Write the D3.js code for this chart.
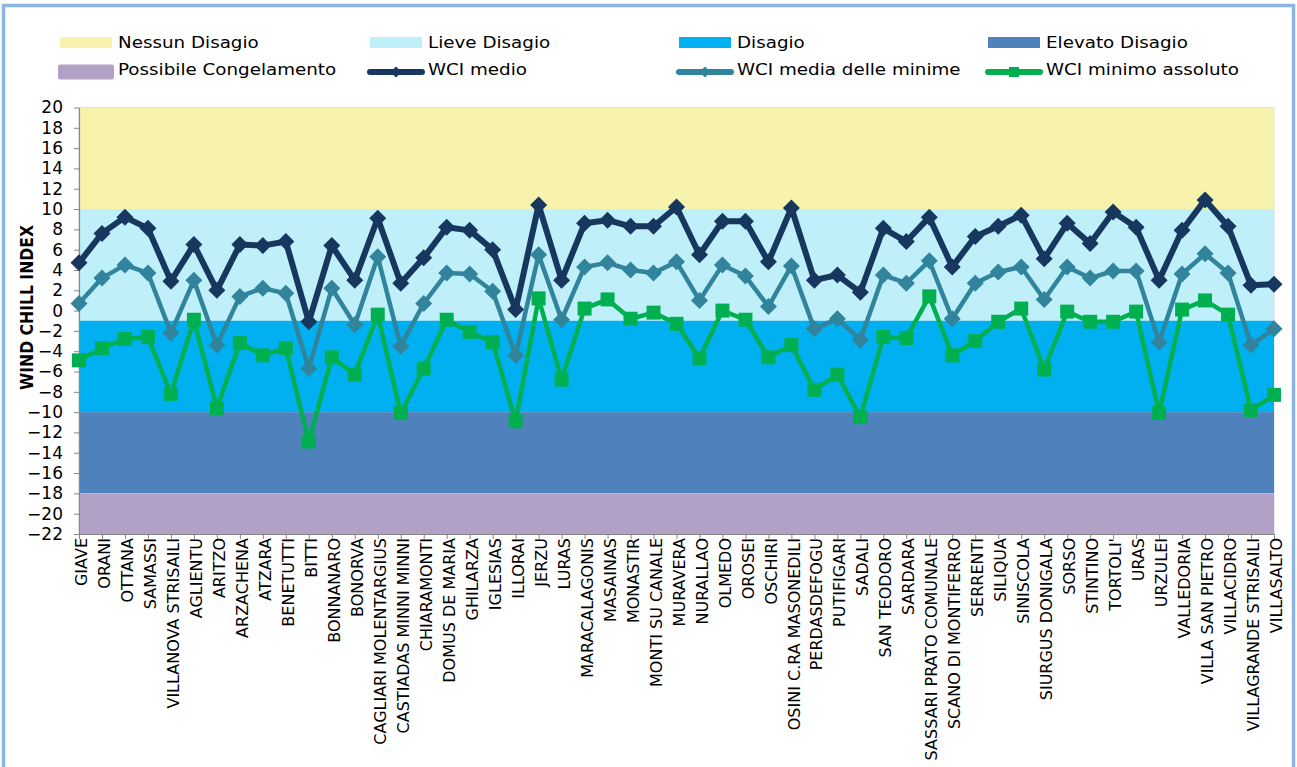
<!DOCTYPE html>
<html>
<head>
<meta charset="utf-8">
<script src="https://cdn.jsdelivr.net/npm/d3@7/dist/d3.min.js"></script>
<style>
  html, body { margin: 0; padding: 0; background: #ffffff; }
  svg { display: block; }
  text { font-family: "DejaVu Sans", Verdana, sans-serif; fill: #000; }
</style>
</head>
<body>
<svg id="chart" width="1297" height="767"></svg>
<script>
// Stazioni
const categories = [
  "GIAVE", "ORANI", "OTTANA", "SAMASSI", "VILLANOVA STRISAILI", "AGLIENTU", "ARITZO",
  "ARZACHENA", "ATZARA", "BENETUTTI", "BITTI", "BONNANARO", "BONORVA",
  "CAGLIARI MOLENTARGIUS", "CASTIADAS MINNI MINNI", "CHIARAMONTI", "DOMUS DE MARIA",
  "GHILARZA", "IGLESIAS", "ILLORAI", "JERZU", "LURAS", "MARACALAGONIS", "MASAINAS",
  "MONASTIR", "MONTI SU CANALE", "MURAVERA", "NURALLAO", "OLMEDO", "OROSEI", "OSCHIRI",
  "OSINI C.RA MASONEDILI", "PERDASDEFOGU", "PUTIFIGARI", "SADALI", "SAN TEODORO",
  "SARDARA", "SASSARI PRATO COMUNALE", "SCANO DI MONTIFERRO", "SERRENTI", "SILIQUA",
  "SINISCOLA", "SIURGUS DONIGALA", "SORSO", "STINTINO", "TORTOLI'", "URAS", "URZULEI",
  "VALLEDORIA", "VILLA SAN PIETRO", "VILLACIDRO", "VILLAGRANDE STRISAILI", "VILLASALTO"
];

// WCI medio
const wciMedio = [
  4.7, 7.6, 9.2, 8.1, 2.9, 6.5, 2.0, 6.5, 6.4, 6.8,
  -1.1, 6.4, 3.0, 9.1, 2.7, 5.2, 8.2, 7.9, 6.0, 0.1,
  10.4, 3.0, 8.6, 8.9, 8.3, 8.3, 10.2, 5.5, 8.8, 8.8,
  4.8, 10.1, 3.0, 3.5, 1.8, 8.1, 6.8, 9.2, 4.3, 7.3,
  8.3, 9.4, 5.1, 8.6, 6.6, 9.7, 8.2, 3.0, 7.9, 10.9,
  8.3, 2.5, 2.6
];

// WCI media delle minime
const wciMediaMinime = [
  0.7, 3.2, 4.5, 3.7, -2.2, 3.0, -3.4, 1.4, 2.2, 1.7,
  -5.7, 2.2, -1.4, 5.3, -3.5, 0.7, 3.7, 3.6, 1.9, -4.4,
  5.5, -0.9, 4.3, 4.7, 4.0, 3.7, 4.8, 1.0, 4.5, 3.4,
  0.4, 4.4, -1.8, -0.8, -2.9, 3.5, 2.7, 4.9, -0.8, 2.7,
  3.8, 4.3, 1.1, 4.3, 3.2, 3.9, 3.9, -3.1, 3.6, 5.6,
  3.7, -3.4, -1.8
];

// WCI minimo assoluto
const wciMinimoAssoluto = [
  -4.9, -3.7, -2.8, -2.6, -8.2, -0.9, -9.6, -3.2, -4.4, -3.7,
  -12.9, -4.6, -6.3, -0.4, -10.1, -5.7, -0.9, -2.1, -3.1, -10.9,
  1.2, -6.8, 0.2, 1.1, -0.8, -0.2, -1.3, -4.7, 0.0, -0.9,
  -4.6, -3.4, -7.8, -6.3, -10.5, -2.6, -2.7, 1.4, -4.4, -3.0,
  -1.1, 0.2, -5.8, -0.1, -1.1, -1.1, -0.1, -10.1, 0.1, 1.0,
  -0.4, -9.8, -8.3
];

// Fasce di disagio (limiti inferiore e superiore)
const bandNames = ["Nessun Disagio", "Lieve Disagio", "Disagio", "Elevato Disagio", "Possibile Congelamento"];
const bandFrom = [10, -1, -10, -18, -22];
const bandTo = [20, 10, -1, -10, -18];

const yTicks = d3.range(-22, 21, 2);

// ---- stile ----
const bandColors = ["#F7F3AD", "#BFF0FA", "#00B0F0", "#4F81BD", "#B1A1C7"];
const seriesNames = ["WCI medio", "WCI media delle minime", "WCI minimo assoluto"];
const seriesData = [wciMedio, wciMediaMinime, wciMinimoAssoluto];
const seriesColors = ["#17375E", "#31849B", "#00B050"];
const seriesWidth = [6, 4.5, 4.5];
const seriesMarker = ["diamond", "diamond", "square"];

const svg = d3.select("#chart");
const W = 1297, H = 767;
const plot = { left: 79, right: 1274, top: 107.5, bottom: 534 };

// cornice esterna
svg.append("rect")
  .attr("x", 3.5).attr("y", 5.5)
  .attr("width", W - 7).attr("height", H + 20)
  .attr("fill", "#ffffff")
  .attr("stroke", "#8DB4E2").attr("stroke-width", 3.5);

const x = d3.scalePoint().domain(categories).range([plot.left, plot.right]);
const y = d3.scaleLinear().domain([-22, 20]).range([plot.bottom, plot.top]);

// bordo dell'area del grafico
svg.append("rect")
  .attr("x", plot.left).attr("y", plot.top)
  .attr("width", plot.right - plot.left).attr("height", plot.bottom - plot.top)
  .attr("fill", "none").attr("stroke", "#D9D9D9").attr("stroke-width", 1);

// fasce colorate
svg.append("g").selectAll("rect")
  .data(bandNames)
  .join("rect")
  .attr("x", plot.left)
  .attr("width", plot.right - plot.left)
  .attr("y", (d, i) => y(bandTo[i]))
  .attr("height", (d, i) => y(bandFrom[i]) - y(bandTo[i]))
  .attr("fill", (d, i) => bandColors[i]);

// asse Y
const yAxis = svg.append("g")
  .attr("transform", `translate(${plot.left},0)`)
  .call(d3.axisLeft(y).tickValues(yTicks).tickSize(5).tickPadding(11).tickSizeOuter(0));
yAxis.select(".domain").attr("stroke", "#868686").attr("stroke-width", 1.2);
yAxis.selectAll(".tick line").attr("stroke", "#868686");
yAxis.selectAll(".tick text")
  .style("font-family", '"DejaVu Sans", Verdana, sans-serif')
  .style("font-size", "17px")
  .attr("fill", "#000");

// asse X
const xAxis = svg.append("g")
  .attr("transform", `translate(0,${plot.bottom})`)
  .call(d3.axisBottom(x).tickSize(5).tickSizeOuter(0).tickPadding(4));
xAxis.select(".domain").attr("stroke", "#868686").attr("stroke-width", 1.2);
xAxis.selectAll(".tick line").attr("stroke", "#868686");
xAxis.selectAll(".tick text")
  .style("font-family", '"DejaVu Sans", Verdana, sans-serif')
  .style("font-size", "16px")
  .attr("fill", "#000")
  .attr("text-anchor", "end")
  .attr("transform", "rotate(-90)")
  .attr("x", -4)
  .attr("y", 2)
  .attr("dy", "0.35em");

// titolo asse Y
svg.append("text")
  .attr("transform", `translate(33,${(225 + 390) / 2}) rotate(-90)`)
  .attr("text-anchor", "middle")
  .attr("textLength", 165)
  .attr("lengthAdjust", "spacingAndGlyphs")
  .style("font-size", "17px")
  .style("font-weight", "bold")
  .text("WIND CHILL INDEX");

// marcatori
function markerPath(type, r) {
  if (type === "diamond") return `M0,${-r}L${r},0L0,${r}L${-r},0Z`;
  return `M${-r},${-r}H${r}V${r}H${-r}Z`;
}

const line = d3.line()
  .x((d, i) => x(categories[i]))
  .y(d => y(d));

seriesData.forEach((vals, s) => {
  const g = svg.append("g");
  g.append("path")
    .datum(vals)
    .attr("d", line)
    .attr("fill", "none")
    .attr("stroke", seriesColors[s])
    .attr("stroke-width", seriesWidth[s])
    .attr("stroke-linejoin", "round");
  g.selectAll("path.mk")
    .data(vals)
    .join("path")
    .attr("class", "mk")
    .attr("transform", (d, i) => `translate(${x(categories[i])},${y(d)})`)
    .attr("d", markerPath(seriesMarker[s], seriesMarker[s] === "diamond" ? 8.5 : 7))
    .attr("fill", seriesColors[s]);
});

// legenda
const legendCols = [60, 370, 679, 988];
const legendRows = [42.5, 72];
const legendItems = [];
bandNames.forEach((n, i) => legendItems.push({ name: n, kind: "band", color: bandColors[i] }));
seriesNames.forEach((n, i) => legendItems.push({ name: n, kind: "line", color: seriesColors[i], marker: seriesMarker[i] }));

const legend = svg.append("g");
legendItems.forEach((it, k) => {
  const cx = legendCols[k % 4];
  const cy = legendRows[Math.floor(k / 4)];
  const g = legend.append("g").attr("transform", `translate(${cx},${cy})`);
  if (it.kind === "band") {
    const tall = it.name === "Possibile Congelamento";
    g.append("rect")
      .attr("x", tall ? -2 : 0).attr("y", tall ? -7.5 : -5.5)
      .attr("width", tall ? 56 : 52).attr("height", tall ? 15 : 11)
      .attr("rx", tall ? 2 : 0)
      .attr("fill", it.color);
  } else {
    g.append("line")
      .attr("x1", 0).attr("x2", 52).attr("y1", 0).attr("y2", 0)
      .attr("stroke", it.color).attr("stroke-width", 6)
      .attr("stroke-linecap", "round");
    g.append("path")
      .attr("transform", "translate(26,0)")
      .attr("d", markerPath(it.marker, it.marker === "diamond" ? 5.5 : 5))
      .attr("fill", it.color);
  }
  g.append("text")
    .attr("transform", `translate(58,${(k < 4 ? 5.2 : 3)}) scale(1.22,1)`)
    .style("font-size", "15px")
    .text(it.name);
});
</script>
</body>
</html>
